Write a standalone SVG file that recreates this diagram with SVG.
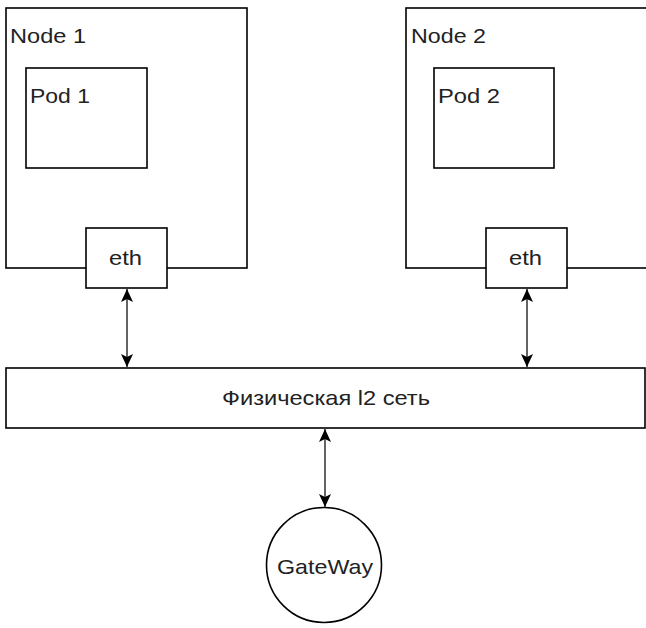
<svg xmlns="http://www.w3.org/2000/svg" width="646" height="628" viewBox="0 0 646 628">
<defs>
<marker id="ah" viewBox="0 0 13 12" refX="13" refY="6" markerWidth="13" markerHeight="12" markerUnits="userSpaceOnUse" orient="auto-start-reverse">
<path d="M0,0 L13,6 L0,12 L3,6 Z" fill="#000"/>
</marker>
</defs>
<style>
.box{fill:#fff;stroke:#000;stroke-width:1.6}
.t{font-family:"Liberation Sans",Arial,sans-serif;font-size:21px;fill:#222}
.c{stroke:#222;stroke-width:1.4;fill:none}
</style>
<g id="node1">
<rect class="box" x="6" y="8" width="241" height="260"/>
<text class="t" x="10" y="43" textLength="76" lengthAdjust="spacingAndGlyphs">Node 1</text>
</g>
<g id="pod1">
<rect class="box" x="26" y="68" width="121" height="100"/>
<text class="t" x="30" y="103" textLength="60" lengthAdjust="spacingAndGlyphs">Pod 1</text>
</g>
<g id="eth1">
<rect class="box" x="86" y="228" width="81" height="60"/>
<text class="t" x="109" y="265" textLength="33" lengthAdjust="spacingAndGlyphs">eth</text>
</g>
<g id="node2">
<rect class="box" x="406" y="8" width="241" height="260"/>
<text class="t" x="411" y="43" textLength="75" lengthAdjust="spacingAndGlyphs">Node 2</text>
</g>
<g id="pod2">
<rect class="box" x="434" y="68" width="120" height="100"/>
<text class="t" x="438" y="103" textLength="62" lengthAdjust="spacingAndGlyphs">Pod 2</text>
</g>
<g id="eth2">
<rect class="box" x="486" y="228" width="81" height="60"/>
<text class="t" x="509" y="265" textLength="33" lengthAdjust="spacingAndGlyphs">eth</text>
</g>
<g id="l2net">
<rect class="box" x="6" y="368" width="639" height="60"/>
<text class="t" x="222" y="405" textLength="208" lengthAdjust="spacingAndGlyphs">Физическая l2 сеть</text>
</g>
<g id="gateway">
<circle class="box" cx="324" cy="565" r="57.5"/>
<text class="t" x="277" y="574" textLength="96" lengthAdjust="spacingAndGlyphs">GateWay</text>
</g>
<g id="connectors">
<line class="c" x1="127" y1="289" x2="127" y2="367" marker-start="url(#ah)" marker-end="url(#ah)"/>
<line class="c" x1="527" y1="289" x2="527" y2="367" marker-start="url(#ah)" marker-end="url(#ah)"/>
<line class="c" x1="325" y1="429" x2="325" y2="507" marker-start="url(#ah)" marker-end="url(#ah)"/>
</g>
</svg>
